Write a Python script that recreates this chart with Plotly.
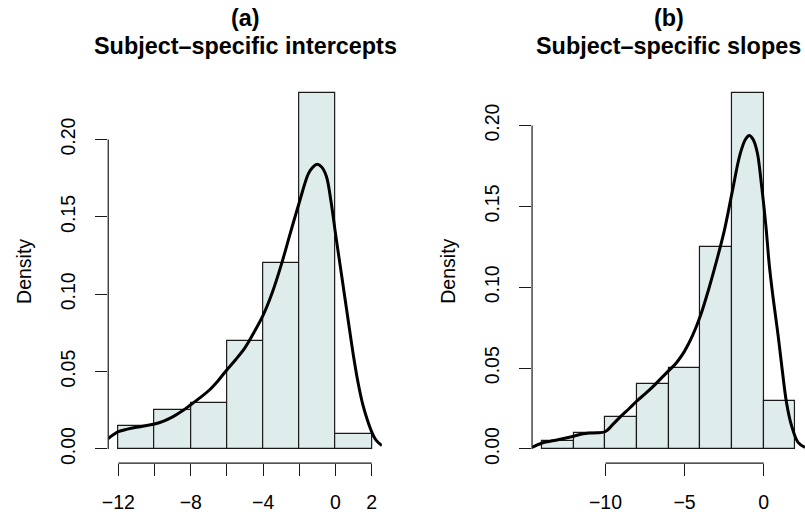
import plotly.graph_objects as go

# Panel (a): subject-specific intercepts
a_edges = [-12, -10, -8, -6, -4, -2, 0, 2]
a_density = [0.015, 0.025, 0.030, 0.070, 0.120, 0.230, 0.010]
a_kde_x = [-12.56, -12.0, -11.5, -11.0, -10.5, -10.0, -9.5, -9.0, -8.5, -8.0,
           -7.5, -7.0, -6.5, -6.0, -5.5, -5.0, -4.5, -4.0, -3.5, -3.0, -2.5,
           -2.0, -1.5, -1.25, -1.0, -0.75, -0.5, -0.25, 0.0, 0.25, 0.5, 0.75,
           1.0, 1.25, 1.5, 1.75, 2.0, 2.25, 2.56]
a_kde_y = [0.0068, 0.0112, 0.0128, 0.0140, 0.0150, 0.0161, 0.0180, 0.0207, 0.0243,
           0.0286, 0.0330, 0.0378, 0.0440, 0.0512, 0.0580, 0.0655, 0.0755, 0.0865,
           0.1010, 0.1190, 0.1395, 0.1595, 0.1780, 0.1822, 0.1840, 0.1820, 0.1760,
           0.1600, 0.1390, 0.1190, 0.0990, 0.0790, 0.0595, 0.0425, 0.0290, 0.0190,
           0.0110, 0.0055, 0.0022]
a_xticks = [-12, -10, -8, -6, -4, -2, 0, 2]
a_xlabels = ["\u221212", "", "\u22128", "", "\u22124", "", "0", "2"]

# Panel (b): subject-specific slopes
b_edges = [-14, -12, -10, -8, -6, -4, -2, 0, 2]
b_density = [0.005, 0.010, 0.020, 0.040, 0.050, 0.125, 0.220, 0.030]
b_kde_x = [-14.64, -14.0, -13.5, -13.0, -12.5, -12.0, -11.5, -11.0, -10.5, -10.0,
           -9.5, -9.0, -8.5, -8.0, -7.5, -7.0, -6.5, -6.0, -5.5, -5.0, -4.5, -4.0,
           -3.5, -3.0, -2.5, -2.0, -1.5, -1.15, -0.9, -0.65, -0.4, -0.13, 0.14,
           0.35, 0.6, 0.9, 1.17, 1.44, 1.76, 2.17, 2.61]
b_kde_y = [0.0010, 0.0037, 0.0047, 0.0057, 0.0068, 0.0079, 0.0092, 0.0098, 0.0100,
           0.0108, 0.0155, 0.0205, 0.0250, 0.0298, 0.0340, 0.0385, 0.0435, 0.0484,
           0.0535, 0.0605, 0.0700, 0.0823, 0.0980, 0.1155, 0.1345, 0.1585, 0.1820,
           0.1915, 0.1938, 0.1910, 0.1830, 0.1625, 0.1378, 0.1140, 0.0930, 0.0710,
           0.0490, 0.0288, 0.0144, 0.0041, 0.0010]
b_xticks = [-10, -5, 0]
b_xlabels = ["\u221210", "\u22125", "0"]

y_ticks = [0.00, 0.05, 0.10, 0.15, 0.20]
y_labels = ["0.00", "0.05", "0.10", "0.15", "0.20"]

titles = [("(a)", "Subject\u2013specific intercepts"), ("(b)", "Subject\u2013specific slopes")]

FONT = "Liberation Sans, Arial, Helvetica, sans-serif"
W, H = 805, 515
BAR_FILL = "#DEECEB"
INK = "#1a1a1a"
TICK_SIZE = 19.5
TITLE_SIZE = 23.4

# plot regions in pixels (left, right) and shared (top, bottom)
regions = [(103, 378.7), (530, 805)]
top_px, bottom_px = 79.2, 465

panels = [
    dict(edges=a_edges, dens=a_density, kx=a_kde_x, ky=a_kde_y,
         xticks=a_xticks, xlabels=a_xlabels, xrange=[-12.56, 2.56], ymax=0.23),
    dict(edges=b_edges, dens=b_density, kx=b_kde_x, ky=b_kde_y,
         xticks=b_xticks, xlabels=b_xlabels, xrange=[-14.64, 2.61], ymax=0.22),
]

fig = go.Figure()
layout = dict(
    width=W, height=H,
    margin=dict(l=0, r=0, t=0, b=0),
    paper_bgcolor="white", plot_bgcolor="white",
    showlegend=False, bargap=0,
    font=dict(family=FONT, color="black", size=TICK_SIZE),
    shapes=[], annotations=[],
)

for i, p in enumerate(panels):
    sfx = "" if i == 0 else str(i + 1)
    xa, ya = "x" + sfx, "y" + sfx
    edges = p["edges"]
    centers = [(edges[k] + edges[k + 1]) / 2 for k in range(len(edges) - 1)]
    widths = [edges[k + 1] - edges[k] for k in range(len(edges) - 1)]
    fig.add_trace(go.Bar(
        x=centers, y=p["dens"], width=widths,
        marker=dict(color=BAR_FILL, line=dict(color=INK, width=1.2)),
        xaxis=xa, yaxis=ya, hoverinfo="skip",
    ))
    fig.add_trace(go.Scatter(
        x=p["kx"], y=p["ky"], mode="lines",
        line=dict(color="black", width=3, shape="spline", smoothing=1.0),
        xaxis=xa, yaxis=ya, hoverinfo="skip", cliponaxis=True,
    ))

    left, right = regions[i]
    pad = 0.04 * p["ymax"]
    layout["xaxis" + sfx] = dict(
        domain=[left / W, right / W], range=p["xrange"],
        showgrid=False, zeroline=False, showline=False,
        ticks="outside", ticklen=12, tickwidth=1.2, tickcolor=INK,
        tickvals=p["xticks"], ticktext=p["xlabels"],
        tickfont=dict(family=FONT, size=TICK_SIZE, color="black"),
        ticklabelstandoff=9, anchor=ya, fixedrange=True,
    )
    layout["yaxis" + sfx] = dict(
        domain=[(H - bottom_px) / H, (H - top_px) / H], range=[-pad, p["ymax"] + pad],
        showgrid=False, zeroline=False, showline=False,
        ticks="outside", ticklen=12, tickwidth=1.2, tickcolor=INK,
        tickvals=y_ticks, ticktext=y_labels, tickangle=-90,
        tickfont=dict(family=FONT, size=TICK_SIZE, color="black"),
        ticklabelstandoff=12, anchor=xa, fixedrange=True,
    )
    # R-style axis lines spanning only the tick range
    layout["shapes"].append(dict(
        type="line", xref=xa, yref=ya + " domain",
        x0=min(p["xticks"]), x1=max(p["xticks"]), y0=0, y1=0,
        line=dict(color=INK, width=1.2),
    ))
    layout["shapes"].append(dict(
        type="line", xref=xa + " domain", yref=ya,
        x0=0, x1=0, y0=min(y_ticks), y1=max(y_ticks),
        line=dict(color=INK, width=1.2),
    ))
    # y-axis label
    layout["annotations"].append(dict(
        text="Density", textangle=-90, showarrow=False,
        xref="paper", yref="paper", x=(left - 85) / W, y=1 - (top_px + bottom_px) / 2 / H,
        xanchor="center", yanchor="middle",
        font=dict(family=FONT, size=TICK_SIZE, color="black"),
    ))
    # two-line bold title
    cx = (left + right) / 2 / W
    for line_text, ypx in zip(titles[i], (18, 46)):
        layout["annotations"].append(dict(
            text="<b>" + line_text + "</b>", showarrow=False,
            xref="paper", yref="paper", x=cx, y=1 - ypx / H,
            xanchor="center", yanchor="middle",
            font=dict(family=FONT, size=TITLE_SIZE, color="black"),
        ))

fig.update_layout(**layout)
fig.write_html("out.html")
